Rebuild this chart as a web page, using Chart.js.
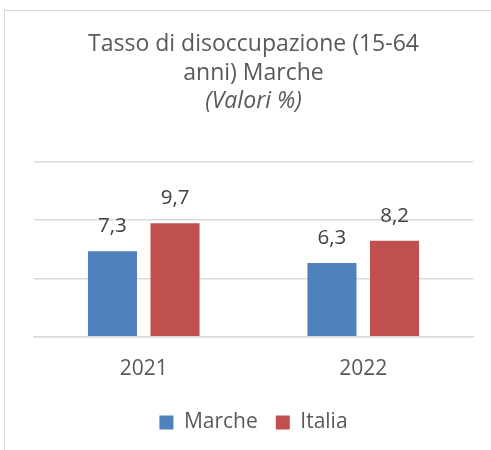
<!DOCTYPE html>
<html lang="it">
<head>
    <meta charset="UTF-8">
    <title>Tasso di disoccupazione Marche</title>
    <style>
    body{
        margin: 0;
        background-color: #fff;
        font-family: 'Open Sans', sans-serif;
    }
    .frame{
        position: absolute;
        left: 4px;
        top: 10px;
        width: 700px;
        height: 700px;
        border: 1.5px solid #d9d9d9;
    }
    .chartBox{
        position: absolute;
        left: 0;
        top: 0;
        width: 491px;
        height: 450px;
    }
    </style>
</head>
<body>
    <div class="frame"></div>
    <div class="chartBox">
        <canvas id="myChart" width="491" height="450"></canvas>
    </div>

    <script src="https://cdn.jsdelivr.net/npm/chart.js@4/dist/chart.umd.min.js"></script>
    <script>
        // Dati
        const anni = ['2021', '2022'];
        const valoriMarche = [7.3, 6.3];
        const valoriItalia = [9.7, 8.2];

        // etichette sopra le barre, con la virgola
        const etichetteValori = {
            id: 'etichetteValori',
            afterDatasetsDraw(chart){
                const ctx = chart.ctx;
                ctx.save();
                ctx.font = '20.5px "Open Sans"';
                ctx.fillStyle = '#404040';
                ctx.textAlign = 'center';
                ctx.textBaseline = 'alphabetic';
                chart.data.datasets.forEach((ds, i) => {
                    chart.getDatasetMeta(i).data.forEach((bar, j) => {
                        let testo = ds.data[j].toFixed(1).replace('.', ',');
                        ctx.fillText(testo, bar.x, bar.y - 19);
                    });
                });
                ctx.restore();
            }
        };

        let data = {
            labels: anni,
            datasets: [{
                label: 'Marche',
                data: valoriMarche,
                backgroundColor: '#4f81bd',
                borderWidth: 0
            },{
                label: 'Italia',
                data: valoriItalia,
                backgroundColor: '#c0504d',
                borderWidth: 0
            }]
        };

        let config = {
            type: 'bar',
            data,
            plugins: [etichetteValori],
            options: {
                responsive: false,
                animation: false,
                devicePixelRatio: 1,
                categoryPercentage: 0.57,
                barPercentage: 0.784,
                layout: {
                    padding: {left: 34, right: 18, top: 0, bottom: 7}
                },
                scales: {
                    x: {
                        grid: {display: false},
                        border: {color: '#d9d9d9', width: 1.5},
                        ticks: {
                            color: '#595959',
                            font: {family: 'Open Sans', size: 21},
                            padding: 12
                        }
                    },
                    y: {
                        min: 0,
                        max: 15,
                        ticks: {display: false, stepSize: 5},
                        border: {display: false},
                        grid: {color: '#d9d9d9', lineWidth: 1.5, drawTicks: false}
                    }
                },
                plugins: {
                    title: {
                        display: true,
                        text: ['Tasso di disoccupazione (15-64', 'anni) Marche'],
                        color: '#595959',
                        font: {family: 'Open Sans', size: 23, weight: 'normal', lineHeight: 1.25},
                        padding: {top: 30, bottom: 0}
                    },
                    subtitle: {
                        display: true,
                        text: '(Valori %)',
                        color: '#595959',
                        font: {family: 'Open Sans', size: 23, style: 'italic', lineHeight: 1.25},
                        padding: {top: 0, bottom: 45}
                    },
                    legend: {
                        position: 'bottom',
                        labels: {
                            color: '#595959',
                            font: {family: 'Open Sans', size: 21},
                            boxWidth: 14,
                            boxHeight: 14,
                            padding: 18
                        }
                    },
                    tooltip: {enabled: false}
                }
            }
        };

        const myChart = new Chart(document.getElementById('myChart'), config);
    </script>
</body>
</html>
